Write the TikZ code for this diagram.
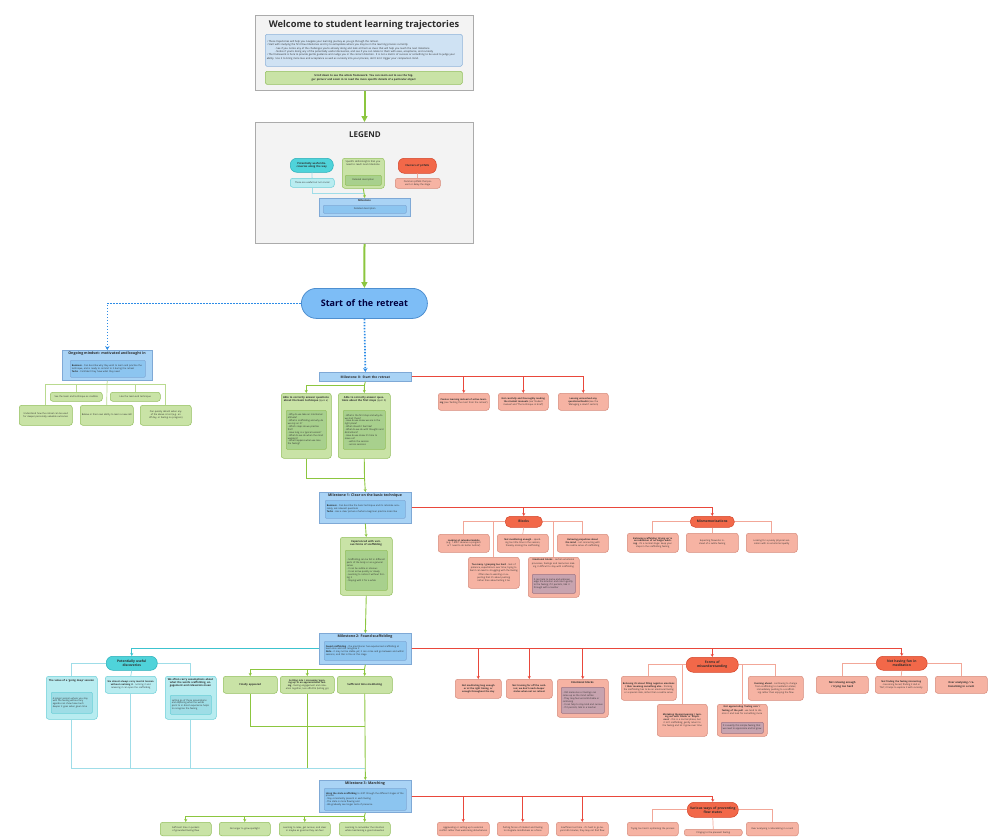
\documentclass[tikz,border=0pt]{standalone}
\usepackage{fontspec}
\setmainfont{Open Sans}
\usetikzlibrary{arrows.meta}
\definecolor{gfill}{HTML}{C9E3A6}
\definecolor{gdraw}{HTML}{93BF5E}
\definecolor{ginner}{HTML}{A8D08D}
\definecolor{gline}{HTML}{8CC63F}
\definecolor{glight}{HTML}{B9DA8F}
\definecolor{bfill}{HTML}{A9D3F5}
\definecolor{bdraw}{HTML}{7FA9D6}
\definecolor{binner}{HTML}{8CC5F0}
\definecolor{sfill}{HTML}{7DBDF6}
\definecolor{sdraw}{HTML}{4E8FD0}
\definecolor{dotb}{HTML}{2D8CE6}
\definecolor{cpill}{HTML}{4FD3DA}
\definecolor{cpilld}{HTML}{26AEB8}
\definecolor{cfill}{HTML}{B8ECF0}
\definecolor{cdraw}{HTML}{6CCFD8}
\definecolor{cinner}{HTML}{9EDDE6}
\definecolor{cline}{HTML}{9FDDE8}
\definecolor{cdark}{HTML}{3CC3CF}
\definecolor{rpill}{HTML}{F26849}
\definecolor{rpilld}{HTML}{D4452A}
\definecolor{rfill}{HTML}{F6B3A3}
\definecolor{rdraw}{HTML}{D68B7B}
\definecolor{rinner}{HTML}{C7A3AF}
\definecolor{rinnerd}{HTML}{9E7585}
\definecolor{rline}{HTML}{E9483B}
\definecolor{rlight}{HTML}{F2A798}
\definecolor{grayf}{HTML}{F3F3F3}
\definecolor{grayd}{HTML}{ABABAB}
\definecolor{ibfill}{HTML}{CFE2F3}
\definecolor{ibdraw}{HTML}{8FB3D9}
\definecolor{txt}{HTML}{2B2B2B}
\newcommand\ft{\fontsize{2.3}{2.9}\selectfont}
\newcommand\fb{\fontsize{2.6}{3.2}\selectfont\bfseries}
\newcommand\fp{\fontsize{3.3}{4.0}\selectfont\bfseries}
\newcommand\fm{\fontsize{3.6}{4.3}\selectfont\bfseries}
\newcommand\bxx[7]{%
 \pgfmathsetmacro\bw{#5-#3}%
 \pgfmathsetmacro\bh{#6-#4}%
 \pgfmathsetmacro\tw{#5-#3-3}%
 \node[#1, anchor=north west, minimum width=\bw pt, minimum height=\bh pt, text width=\tw pt] (#2) at (#3,#4) {#7};}
\newcommand\ttl[5]{\node[anchor=north, text width=#3pt, align=center, font=\fb, text=txt, inner sep=0pt] (#5) at (#1,#2) {#4};}
\tikzset{
 bx/.style={rounded corners=2.5pt, line width=0.5pt, align=center, inner sep=1.5pt, text=txt, font=\ft},
 gbox/.style={bx, fill=gfill, draw=gdraw},
 gin/.style={bx, rounded corners=1pt, fill=ginner, draw=gdraw, align=left},
 bbox/.style={bx, rounded corners=0pt, fill=bfill, draw=bdraw, line width=0.7pt},
 bin/.style={bx, rounded corners=1pt, fill=binner, draw=bdraw, align=left},
 cbox/.style={bx, fill=cfill, draw=cdraw},
 cin/.style={bx, rounded corners=1pt, fill=cinner, draw=cdraw, align=left},
 cpst/.style={bx, rounded corners=6.5pt, fill=cpill, draw=cpilld, font=\fp},
 rbox/.style={bx, fill=rfill, draw=rdraw},
 rin/.style={bx, rounded corners=1pt, fill=rinner, draw=rinnerd, align=left},
 rpst/.style={bx, rounded corners=6pt, fill=rpill, draw=rpilld, font=\fp},
 cont/.style={bx, rounded corners=0pt, fill=grayf, draw=grayd, line width=1pt},
 tip/.style={-{Stealth[length=3pt,width=3pt]}},
 gl/.style={draw=gline, line width=0.9pt},
 ga/.style={gl, tip},
 glt/.style={draw=glight, line width=0.7pt},
 rl/.style={draw=rline, line width=1pt},
 ra/.style={rl, tip},
 rlt/.style={draw=rlight, line width=0.7pt},
 cl/.style={draw=cline, line width=0.8pt},
 ca/.style={draw=cdark, line width=0.9pt, tip},
 big/.style={draw=gline, line width=2pt, -{Triangle[length=6pt,width=6pt]}},
 dotst/.style={draw=dotb, line width=1.7pt, dash pattern=on 1.6pt off 1.4pt, -{Stealth[length=4pt,width=4.5pt]}}
}
\begin{document}
\begin{tikzpicture}[x=1pt,y=-1pt]
\useasboundingbox (0,0) rectangle (1000,836);
\clip (0,0) rectangle (1000,836);

% ---------- title box ----------
\bxx{cont}{tb}{255}{15}{473}{90}{}
\node[font=\fontsize{9.3}{11}\selectfont\bfseries, text=txt] (tbt) at (364,25) {Welcome to student learning trajectories};
\bxx{bx, rounded corners=1.5pt, fill=ibfill, draw=ibdraw, align=left, font=\fontsize{2.5}{3.3}\selectfont}{tbi}{265}{34}{462}{66}{%
• These trajectories will help you navigate your learning journey as you go through the retreat.\\
• Start with studying the first few milestones and try to extrapolate where you may be in the learning process currently.\\
\hspace*{8pt}- See if you notice any of the challenges you're already doing and look at them as clues that will help you reach the next milestone\\
\hspace*{8pt}- Notice if you're doing any of the potentially useful discoveries, and see if you can relate to them with ease, acceptance, and curiosity\\
• The framework is here to provide gentle guidance and nudge you in the correct direction. It is not a metric of success or something to be used to judge your ability. Use it to bring more love and acceptance as well as curiosity into your process, don't let it trigger your comparison mind.}
\bxx{gbox, rounded corners=1.5pt, font=\fb}{tbg}{265}{71}{462}{84}{Scroll down to see the whole framework. You can zoom out to see the `bigger picture' and zoom in to read the more specific details of a particular object}

% ---------- legend ----------
\bxx{cont}{lg}{255}{122}{473}{243}{}
\node[font=\fontsize{8}{9}\selectfont\bfseries, text=txt] (lgt) at (365,135) {LEGEND};
\bxx{cpst, font=\fb}{lc}{290}{158}{333}{172}{Potentially useful discoveries along the way}
\bxx{cbox}{lcb}{290}{178}{334}{187}{These are useful but not crucial}
\bxx{gbox}{lgb}{342}{158}{384}{188}{}
\ttl{363}{160}{38}{\fontsize{2.4}{3}\selectfont\mdseries Specific skills/insights that you need to reach next milestone}{lgbt}
\bxx{gin, align=center}{lgbi}{345}{175}{381}{185}{Detailed description}
\bxx{rpst, font=\fb}{lr}{398}{158}{436}{173}{Clusters of pitfalls}
\bxx{rbox}{lrb}{395}{178}{440}{188}{Common pitfalls that prevent or delay the stage}
\bxx{bbox}{lm}{319}{198}{410}{216}{}
\ttl{364.5}{199.5}{80}{Milestone}{lmt}
\bxx{bin, align=center}{lmi}{323}{205}{406}{213}{Detailed description}
\coordinate (lj) at (364,193);
\draw[cl] (lc) -- (lcb);
\draw[cl] (lcb.south) |- (lj);
\draw[ga] (lgb.south) -- (lm.north);
\draw[rlt] (lr) -- (lrb);

% ---------- start ----------
\bxx{bx, rounded corners=15pt, fill=sfill, draw=sdraw, line width=0.8pt, font=\fontsize{9}{10}\selectfont\bfseries, text=black!75!blue}{st}{301}{288}{427}{318}{Start of the retreat}
\draw[big] (tb.south) -- (lg.north);
\draw[big] (lg.south) -- (st.north);

% ---------- ongoing mindset ----------
\bxx{bbox}{om}{62}{350}{152}{380}{}
\ttl{107}{352}{88}{\fontsize{3.6}{4.3}\selectfont\bfseries Ongoing mindset: motivated and bought in}{omt}
\bxx{bin}{omi}{70}{360}{145}{377}{\textbf{Business} - Can describe why they wish to learn and practise the technique, and is ready to commit to it during the retreat\\ \textbf{Techs} - Confident they have what they need}
\bxx{gbox}{o1}{50}{392}{102}{401}{See the team and technique as credible}
\bxx{gbox}{o2}{110}{392}{160}{401}{Like the team and technique}
\bxx{gbox}{o3}{19}{405}{72}{425}{Understand how the retreat can be used for deeper personally valuable outcomes}
\bxx{gbox}{o4}{80}{405}{133}{425}{Believe in their own ability to learn a new skill}
\bxx{gbox}{o5}{140}{405}{191}{425}{Can quickly detach when any of the above is lost (e.g. an off day, or feeling no progress)}
\coordinate (o0) at (107,384);
\draw[glt] (om.south) -- (o0);
\draw[glt] (o0) -| (o3.north);
\draw[glt] (o0) -| (o1.north);
\draw[glt] (o0) -- (o4.north);
\draw[glt] (o0) -| (o2.north);
\draw[glt] (o0) -| (o5.north);

% ---------- milestone 0 ----------
\bxx{bbox, font=\fontsize{3.3}{4}\selectfont\bfseries}{m0}{319}{372}{411}{381}{Milestone 0: Start the retreat}
\draw[dotst] (st.west) -| (om.north);
\draw[dotst] (st.south) -- (m0.north);
\bxx{gbox}{a1}{281}{393}{331}{458}{}
\ttl{306}{396}{46}{Able to correctly answer questions about the basic technique \mdseries(quiz a)}{a1t}
\bxx{gin}{a1i}{286}{410}{326}{449}{- Why do we take an intentional attitude?\\- What is scaffolding and why do we rely on it?\\- Which steps do we practise first?\\- How long is a typical session?\\- What do we do when the mind wanders?\\- What happens when we lose the feeling?}
\bxx{gbox}{a2}{338}{393}{390}{458}{}
\ttl{364}{396}{48}{Able to correctly answer questions about the first steps \mdseries(quiz b)}{a2t}
\bxx{gin}{a2i}{343}{410}{385}{449}{- What is the first step and why do we start there?\\- How do we know we are in the right place?\\- What should it feel like?\\- What do we do with thoughts and distractions?\\- How do we know it's time to move on?\\\hspace*{3pt}- within the session\\\hspace*{3pt}- across sessions}
\coordinate (j0) at (364.5,385);
\draw[gl] (m0.south) -- (j0);
\draw[ga] (j0) -| (a1.north);
\draw[ga] (j0) -- (a2.north);
\bxx{rbox}{r01}{438}{393}{489}{410}{\textbf{Passive learning instead of active learning} \mdseries(see `Getting the most from the retreat')}
\bxx{rbox}{r02}{498}{393}{548}{410}{\textbf{Not carefully and thoroughly reading the student manuals} (see `Student manual' and `The technique in brief')}
\bxx{rbox}{r03}{558}{393}{608}{410}{\textbf{Leaving unresolved any questions/doubts} (see the `Managing a doubt' section)}
\draw[ra] (m0.east) -| (r01.north);
\draw[ra] (m0.east) -| (r02.north);
\draw[ra] (m0.east) -| (r03.north);

% ---------- milestone 1 ----------
\bxx{bbox}{m1}{319}{492}{411}{523}{}
\ttl{365}{494}{88}{\fm Milestone 1: Clear on the basic technique}{m1t}
\bxx{bin}{m1i}{325}{500}{405}{518}{\textbf{Business} - Can describe the basic technique and its rationale accurately, ask relevant questions\\ \textbf{Techs} - Has a clear picture of what a beginner practice looks like}
\coordinate (k0) at (364.5,478);
\draw[gl] (a1.south) |- (k0);
\draw[gl] (a2.south) -- (k0);
\draw[ga] (k0) -- (m1.north);
\bxx{gbox}{g1}{340}{537}{392}{595}{}
\ttl{366}{540}{48}{Experienced with various forms of scaffolding}{g1t}
\bxx{gin}{g1i}{345}{550}{387}{590}{- Scaffolding can be felt in different parts of the body or as a general sense\\- It can be subtle or obvious\\- It can arrive quickly or slowly\\- Learning to notice it without forcing it\\- Staying with it for a while}
\draw[ga] (m1.south) -- (g1.north);
% blocks
\bxx{rpst, rounded corners=5pt}{bl}{505}{516}{542}{527}{Blocks}
\bxx{rbox}{b1}{438}{534}{489}{552}{\textbf{Looking at calendar/mobile} (e.g. `I don't deserve a program' or `I need to do better before')}
\bxx{rbox}{b2}{497}{534}{548}{552}{\textbf{Not meditating enough} - spending too little time in the session, thereby missing the scaffolding}
\bxx{rbox}{b3}{557}{534}{608}{552}{\textbf{Believing prejudices about the mind} - not connecting with the subtle sense of scaffolding}
\bxx{rbox}{b4}{468}{557}{519}{588}{\textbf{Too many / grasping too hard} - lack of patience, expectations over time; trying to feel it can lead to struggling with the feeling\\[1pt] Often due to wanting or expecting that it's about pushing rather than about letting it be}
\bxx{rbox}{b5}{528}{557}{579}{597}{}
\ttl{553.5}{559}{48}{\fontsize{2.3}{2.9}\selectfont\textbf{Emotional blocks} \mdseries - certain emotional processes, feelings and memories making it difficult to stay with scaffolding}{b5t}
\bxx{rin}{b5i}{532}{574}{575}{593}{It can help to name and acknowledge the emotion and return gently to the feeling; if it persists, talk it through with a teacher}
\draw[ra] (m1.east) -| (bl.north);
\draw[rlt] (bl.west) -| (b1.north);
\draw[rlt] (bl.west) -| (b4.north);
\draw[rlt] (bl.south) -- (b2.north);
\draw[rlt] (bl.east) -| (b3.north);
\draw[rlt] (bl.east) -| (b5.north);
% mismemorizations
\bxx{rpst, rounded corners=5pt}{mm}{690}{516}{734}{527}{Mismemorizations}
\bxx{rbox}{mm1}{627}{533}{678}{552}{\textbf{Believing scaffolding `drying up' is an indication of no longer working} - it's a normal stage: keep your steps in the scaffolding feeling}
\bxx{rbox}{mm2}{686}{533}{738}{552}{Expecting fireworks instead of a subtle feeling}
\bxx{rbox}{mm3}{746}{533}{797}{552}{Looking for a purely physical sensation with no emotional quality}
\draw[ra] (m1.east) -| (mm.north);
\draw[rlt] (mm.west) -| (mm1.north);
\draw[rlt] (mm.south) -- (mm2.north);
\draw[rlt] (mm.east) -| (mm3.north);

% ---------- milestone 2 ----------
\bxx{bbox}{m2}{319}{633}{411}{664}{}
\ttl{365}{635}{88}{\fm Milestone 2: Found scaffolding}{m2t}
\bxx{bin}{m2i}{324}{641}{406}{660}{\textbf{Found scaffolding} - the practitioner has experienced scaffolding at least once and can recognise it\\ \textbf{Note} - it may not be stable yet; it can come and go between and within sessions, and that is fine at this stage}
\draw[ga] (g1.south) -- (m2.north);
% potentially useful
\bxx{cpst}{cp}{106}{656}{157}{670}{Potentially useful\\discoveries}
\bxx{cbox}{c1}{46}{676}{97}{719}{}
\ttl{71.5}{679}{48}{The value of a `going deep' session}{c1t}
\bxx{cin}{c1i}{51}{692}{92}{713}{A longer session where you stay with the feeling without any agenda can show how much deeper it goes when given time}
\bxx{cbox}{c2}{105}{676}{156}{693}{\textbf{We almost always carry mental tension without realising it} - noticing it and releasing it can open the scaffolding}
\bxx{cbox}{c3}{165}{676}{216}{719}{}
\ttl{190.5}{678}{48}{We often carry assumptions about what the words scaffolding, engagement and relaxation mean}{c3t}
\bxx{cin}{c3i}{170}{695}{211}{714}{Letting go of those assumptions and exploring what the words point to in direct experience helps to recognise the feeling}
\draw[ca] (m2.west) -| (cp.north);
\draw[cl] (cp.west) -| (c1.north);
\draw[cl] (cp.south) -- (c2.north);
\draw[cl] (cp.east) -| (c3.north);
% green skills
\bxx{gbox, font=\fb}{d1}{223}{676}{277}{693}{Finally appeared}
\bxx{gbox}{d2}{280}{676}{334}{693}{\textbf{Settling into / increasing `opening up' in an appreciational feeling} - feeling engagement and relaxation together, less effortful (letting go)}
\bxx{gbox, font=\fb}{d3}{337}{676}{392}{693}{Sufficient time meditating}
\coordinate (j1) at (364.5,669);
\draw[gl] (m2.south) -- (j1);
\draw[ga] (j1) -| (d1.north);
\draw[ga] (j1) -| (d2.north);
\draw[ga] (j1) -- (d3.north);
% red pitfalls
\bxx{rbox}{e1}{455}{679}{501}{698}{\textbf{Not meditating long enough or at the right timing, or enough throughout the day}}
\bxx{rbox}{e2}{506}{679}{552}{698}{\textbf{Not training for off the cushion; we don't reach deeper states when not on retreat}}
\bxx{rbox}{e3}{557}{679}{608}{717}{}
\ttl{582.5}{681}{46}{Emotional blocks}{e3t}
\bxx{rin}{e3i}{561}{687}{604}{713}{- Old memories or feelings can come up as the mind settles\\- They may feel uncomfortable or confusing\\- It can help to stay kind and curious\\- If it persists, talk to a teacher}
\bxx{rpst, rounded corners=7pt}{fm}{686}{657}{738}{672}{Forms of\\misunderstanding}
\bxx{rbox}{f1}{621}{676}{676}{700}{\textbf{Believing it's about filling negative emotions / their meaning something else} - thinking the scaffolding has to be an emotional feeling or a special state, rather than a subtle sense}
\bxx{rbox}{f2}{748}{676}{803}{700}{\textbf{Running ahead} - continuing to change from scaffolding to meditation states; immediately pushing to a scaffolding rather than enjoying the flow}
\bxx{rbox}{f3}{657}{704}{707}{736}{\textbf{Mistaking theme/meaning / turning out with `Blank' or `Emptiness'} - this is a normal phase, but it isn't scaffolding; gently return to the feeling and let it grow over time}
\bxx{rbox}{f4}{717}{704}{767}{736}{}
\ttl{742}{706}{47}{\fontsize{2.3}{2.9}\selectfont\textbf{Not appreciating `feeling nice' / feeling of the pull} \mdseries - we tend to dismiss it and look for something more}{f4t}
\bxx{rin}{f4i}{721}{722}{763}{733}{It is exactly this simple feeling that we need to appreciate and let grow}
\bxx{rpst, rounded corners=7pt}{nf}{876}{656}{927}{670}{Not having fun in\\meditation}
\bxx{rbox, font=\fb}{n1}{816}{676}{868}{693}{Not relaxing enough / trying too hard}
\bxx{rbox}{n2}{875}{676}{927}{693}{\textbf{Not finding the feeling interesting} - becoming bored; finding it dull or `flat'; it helps to explore it with curiosity}
\bxx{rbox, font=\fb}{n3}{935}{676}{987}{693}{Over analysing / rationalizing in a rush}
\draw[ra] (m2.east) -| (e1.north);
\draw[ra] (m2.east) -| (e2.north);
\draw[ra] (m2.east) -| (e3.north);
\draw[ra] (m2.east) -| (fm.north);
\draw[ra] (m2.east) -| (nf.north);
\draw[rlt] (fm.west) -| (f1.north);
\draw[rlt] (fm.east) -| (f2.north);
\draw[rlt] (fm.west) -| (f3.north);
\draw[rlt] (fm.east) -| (f4.north);
\draw[rlt] (nf.west) -| (n1.north);
\draw[rlt] (nf.south) -- (n2.north);
\draw[rlt] (nf.east) -| (n3.north);

% ---------- milestone 3 ----------
\bxx{bbox}{m3}{319}{780}{411}{812}{}
\ttl{365}{782}{88}{\fm Milestone 3: Marching}{m3t}
\bxx{bin}{m3i}{324}{788}{406}{810}{\textbf{Using the state scaffolding} to shift through the different stages of the process\\ - Stay consistently present in each feeling\\ - The state is more flowing and\\ - We gradually see longer lasts of presence}
\coordinate (j2) at (364.5,726);
\coordinate (j3) at (364.5,768);
\draw[gl] (d1.south) |- (j2);
\draw[gl] (d2.south) |- (j3);
\draw[cl] (c1.south) |- (j3);
\draw[cl] (c2.south) |- (j3);
\draw[cl] (c3.south) |- (j3);
\draw[ga] (d3.south) -- (m3.north);
\bxx{gbox}{h1}{160}{822}{211}{835.5}{Sufficient time in pockets of grounded feeling flow}
\bxx{gbox}{h2}{219}{822}{270}{835.5}{No longer to grow spotlight}
\bxx{gbox}{h3}{279}{822}{330}{835.5}{Learning to relax, get curious, and steer in maybe as good as they can feel}
\bxx{gbox}{h4}{339}{822}{390}{835.5}{Learning to remember the intention while maintaining a good relaxation}
\coordinate (j4) at (364.5,816);
\draw[gl] (m3.south) -- (j4);
\draw[ga] (j4) -| (h1.north);
\draw[ga] (j4) -| (h2.north);
\draw[ga] (j4) -| (h3.north);
\draw[ga] (j4) -- (h4.north);
\bxx{rbox}{k1}{437}{822}{489}{835.5}{Aggravating or setting up to external conflict rather than welcoming disturbances}
\bxx{rbox}{k2}{497}{822}{548}{835.5}{Putting forces of intellect and feeling to integrate mindfulness as a force}
\bxx{rbox}{k3}{556}{822}{608}{835.5}{Insufficient set time - it's hard to go beyond 40 minutes, they may not find flow}
\bxx{rpst, rounded corners=7pt}{vp}{687}{802}{738}{817}{Various ways of preventing\\flow states}
\bxx{rbox}{v1}{627}{822}{678}{835.5}{Trying too hard / optimizing the process}
\bxx{rbox, inner sep=0.5pt}{v2}{684}{829}{742}{835.5}{Clinging to the pleasant feeling}
\bxx{rbox}{v3}{746}{822}{798}{835.5}{Over analysing / rationalizing in a rush}
\draw[ra] (m3.east) -| (k1.north);
\draw[ra] (m3.east) -| (k2.north);
\draw[ra] (m3.east) -| (k3.north);
\draw[ra] (m3.east) -| (vp.north);
\draw[rlt] (vp.west) -| (v1.north);
\draw[rlt] (vp.south) -- (v2.north);
\draw[rlt] (vp.east) -| (v3.north);
\end{tikzpicture}
\end{document}
